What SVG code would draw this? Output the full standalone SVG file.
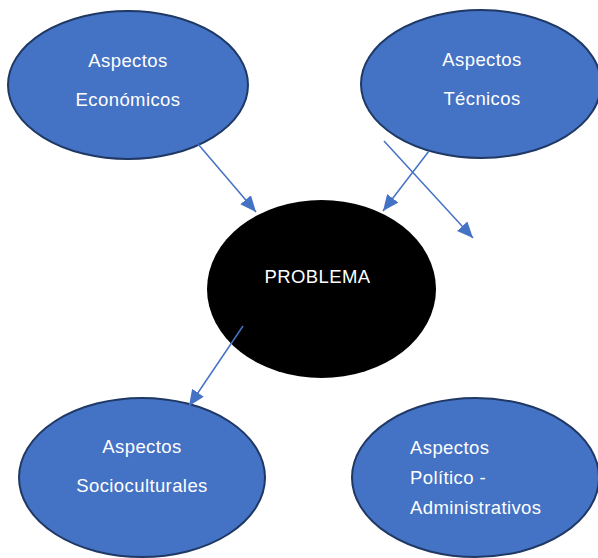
<svg xmlns="http://www.w3.org/2000/svg" width="598" height="558" viewBox="0 0 598 558">
  <style>
    .bubble { fill: #4472C4; stroke: #1F3864; stroke-width: 2; }
    .core { fill: #000000; stroke: none; }
    .label { font-family: "Liberation Sans", Arial, sans-serif; font-size: 18.5px; letter-spacing: 0.4px; fill: #FFFFFF; }
    .mid { text-anchor: middle; }
    .link { stroke: #4472C4; stroke-width: 1.5; fill: none; marker-end: url(#head); }
  </style>
  <defs>
    <marker id="head" markerUnits="userSpaceOnUse" markerWidth="17" markerHeight="15" refX="16" refY="7" orient="auto">
      <path d="M0,0 L16,7 L0,14 Z" fill="#4472C4"/>
    </marker>
  </defs>
  <rect width="598" height="558" fill="#FFFFFF"/>

  <g id="economicos">
    <ellipse class="bubble" cx="128" cy="85" rx="120" ry="74"/>
    <text class="label mid" x="128" y="67">Aspectos</text>
    <text class="label mid" x="128" y="106">Económicos</text>
  </g>

  <g id="tecnicos">
    <ellipse class="bubble" cx="481" cy="84" rx="120" ry="74"/>
    <text class="label mid" x="482" y="66">Aspectos</text>
    <text class="label mid" x="482" y="105">Técnicos</text>
  </g>

  <g id="problema">
    <ellipse class="core" cx="321.5" cy="289" rx="114.5" ry="89"/>
    <text class="label mid" x="317.5" y="283">PROBLEMA</text>
  </g>

  <g id="socioculturales">
    <ellipse class="bubble" cx="142" cy="477.5" rx="123" ry="79.5"/>
    <text class="label mid" x="142" y="453">Aspectos</text>
    <text class="label mid" x="142" y="492">Socioculturales</text>
  </g>

  <g id="politico">
    <ellipse class="bubble" cx="475.5" cy="477.5" rx="123.5" ry="79.5"/>
    <text class="label" x="410" y="454">Aspectos</text>
    <text class="label" x="410" y="484">Político -</text>
    <text class="label" x="410" y="514">Administrativos</text>
  </g>

  <g id="connectors">
    <line class="link" x1="198" y1="144" x2="256" y2="212"/>
    <line class="link" x1="429" y1="151" x2="383" y2="211"/>
    <line class="link" x1="384" y1="141" x2="473" y2="238"/>
    <line class="link" x1="243" y1="326" x2="189" y2="406"/>
  </g>
</svg>
